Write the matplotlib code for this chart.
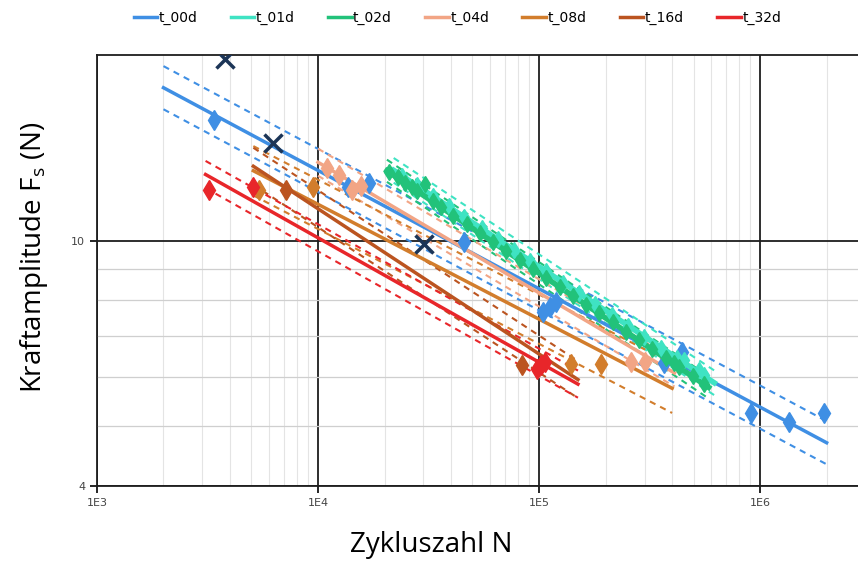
import numpy as np
import matplotlib
matplotlib.use("Agg")
import matplotlib.pyplot as plt
from matplotlib.ticker import FixedLocator, FixedFormatter, NullFormatter
from matplotlib.lines import Line2D

plt.rcParams['font.family'] = ['Open Sans', 'DejaVu Sans']

series = ["t_00d", "t_01d", "t_02d", "t_04d", "t_08d", "t_16d", "t_32d"]
colors = ["#3f8fe4", "#3fe3c3", "#22c27a", "#f2a585", "#d27d2c", "#bb5420", "#e8262a"]

# fitted lines: N start/end and F start/end
fit_n = [(2.0e3, 2.0e6), (2.2e4, 6.2e5), (2.05e4, 5.85e5), (1.0e4, 4.1e5),
         (5.1e3, 4.0e5), (5.1e3, 1.5e5), (3.1e3, 1.5e5)]
fit_f = [(17.7, 4.70), (13.0, 5.88), (12.98, 5.78), (13.4, 6.10),
         (12.98, 5.76), (13.2, 5.95), (12.8, 5.85)]
# scatter band of the dashed lines (log10 offset)
band = [0.035, 0.02, 0.018, 0.022, 0.04, 0.03, 0.022]

# test results
n_00 = [3.38e3, 1.37e4, 1.71e4, 4.58e4, 1.04e5, 1.12e5, 1.19e5, 3.66e5, 4.42e5, 9.1e5, 1.35e6, 1.95e6]
f_00 = [15.7, 12.2, 12.4, 9.93, 7.65, 7.80, 7.94, 6.33, 6.59, 5.25, 5.08, 5.25]
n_01 = [2.4e4, 2.8e4, 3.3e4, 3.9e4, 4.6e4, 5.5e4, 6.5e4, 7.7e4, 9.1e4, 1.08e5, 1.28e5,
        1.52e5, 1.8e5, 2.13e5, 2.52e5, 2.99e5, 3.55e5, 4.2e5, 4.51e5, 5.27e5, 5.6e5]
f_01 = [12.75, 12.30, 11.82, 11.36, 10.92, 10.47, 10.06, 9.66, 9.28, 8.91, 8.55,
        8.21, 7.88, 7.57, 7.27, 6.98, 6.70, 6.44, 6.40, 6.17, 6.05]
n_02 = [2.1e4, 2.3e4, 2.47e4, 2.65e4, 2.8e4, 3.05e4, 3.3e4, 3.6e4, 4.1e4, 4.7e4, 5.4e4, 6.2e4,
        7.1e4, 8.2e4, 9.4e4, 1.08e5, 1.24e5, 1.42e5, 1.63e5, 1.87e5, 2.15e5, 2.47e5,
        2.84e5, 3.26e5, 3.75e5, 4.06e5, 4.3e5, 4.95e5, 5.6e5]
f_02 = [12.9, 12.7, 12.41, 12.2, 12.04, 12.37, 11.6, 11.33, 10.98, 10.63, 10.28, 9.94,
        9.62, 9.29, 8.99, 8.70, 8.41, 8.14, 7.87, 7.62, 7.37, 7.12,
        6.89, 6.66, 6.44, 6.33, 6.23, 6.03, 5.85]
n_04 = [1.1e4, 1.25e4, 1.42e4, 1.57e4, 2.61e5, 3.03e5]
f_04 = [13.13, 12.78, 12.1, 12.26, 6.36, 6.36]
n_08 = [5.41e3, 9.53e3, 1.39e5, 1.9e5]
f_08 = [12.1, 12.2, 6.30, 6.30]
n_16 = [7.18e3, 8.41e4]
f_16 = [12.1, 6.28]
n_32 = [3.2e3, 5.08e3, 9.8e4, 1.02e5, 1.06e5]
f_32 = [12.1, 12.2, 6.2, 6.28, 6.35]
points_n = [n_00, n_01, n_02, n_04, n_08, n_16, n_32]
points_f = [f_00, f_01, f_02, f_04, f_08, f_16, f_32]

# run-outs / outliers of t_00d
x_n = [3.78e3, 6.27e3, 3.01e4]
x_f = [19.7, 14.4, 9.89]

fig = plt.figure(figsize=(8.58, 5.67), dpi=100)
ax = fig.add_axes([0.113, 0.143, 0.892, 0.760])
ax.set_xscale("log")
ax.set_yscale("log")
ax.set_xlim(1e3, 2.9e6)
ax.set_ylim(4, 20)

# grid
ax.xaxis.set_major_locator(FixedLocator([1e3, 1e4, 1e5, 1e6]))
ax.xaxis.set_major_formatter(FixedFormatter(["1E3", "1E4", "1E5", "1E6"]))
ax.xaxis.set_minor_locator(FixedLocator([m * 10**e for e in range(3, 7) for m in range(2, 10)]))
ax.xaxis.set_minor_formatter(NullFormatter())
ax.yaxis.set_major_locator(FixedLocator([4, 10]))
ax.yaxis.set_major_formatter(FixedFormatter(["4", "10"]))
ax.yaxis.set_minor_locator(FixedLocator([5, 6, 7, 8, 9]))
ax.yaxis.set_minor_formatter(NullFormatter())
ax.xaxis.grid(True, which="minor", color="#e4e4e4", lw=0.8)
ax.yaxis.grid(True, which="minor", color="#cfcfcf", lw=0.9)
ax.grid(True, which="major", color="#1e1e1e", lw=1.3)
ax.tick_params(which="minor", length=0)
ax.tick_params(which="major", length=5, width=1.2, direction="out", labelsize=8, labelcolor="#444444")
for lab in ax.get_xticklabels() + ax.get_yticklabels():
    lab.set_family(['Liberation Sans Narrow', 'DejaVu Sans'])
for s in ["left", "bottom", "top"]:
    ax.spines[s].set_color("#1e1e1e")
    ax.spines[s].set_linewidth(1.3)
ax.spines["right"].set_visible(False)

for i, name in enumerate(series):
    c = colors[i]
    n0, n1 = fit_n[i]
    f0, f1 = fit_f[i]
    d = 10 ** band[i]
    ax.plot([n0, n1], [f0 * d, f1 * d], ls=(0, (3, 2.5)), color=c, lw=1.5, zorder=2)
    ax.plot([n0, n1], [f0 / d, f1 / d], ls=(0, (3, 2.5)), color=c, lw=1.5, zorder=2)
    dense = name in ("t_01d", "t_02d")
    ax.plot([n0, n1], [f0, f1], color=c, lw=4 if dense else 2.5, zorder=3)
    ax.plot(points_n[i], points_f[i], ls="none", marker="d", ms=8 if dense else 10,
            color=c, mec=c, zorder=4)

ax.plot(x_n, x_f, ls="none", marker="x", ms=13, mew=2.5, color="#1c3557", zorder=5)

ax.set_xlabel("Zykluszahl N", fontsize=20)
ax.xaxis.set_label_coords(0.437, -0.105)
ax.set_ylabel("Kraftamplitude F$_\\mathregular{s}$ (N)", fontsize=20)
ax.yaxis.set_label_coords(-0.062, 0.53)

handles = [Line2D([], [], color=c, lw=2.5) for c in colors]
leg = fig.legend(handles, series, loc="center", bbox_to_anchor=(0.533, 0.968), ncol=7,
                 frameon=False, fontsize=10, handlelength=1.7, handletextpad=0.1,
                 columnspacing=2.4)
for t in leg.get_texts():
    t.set_family(['Liberation Sans Narrow', 'DejaVu Sans'])

fig.savefig("out.png", dpi=100)
